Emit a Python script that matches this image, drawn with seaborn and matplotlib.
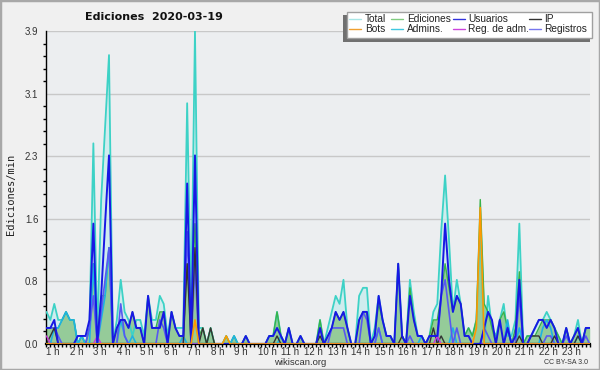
import numpy as np
import pandas as pd
import matplotlib
matplotlib.use("Agg")
import matplotlib.pyplot as plt
import seaborn as sns
from matplotlib.lines import Line2D
from matplotlib.patches import Rectangle
from matplotlib.ticker import FixedLocator, MultipleLocator, FormatStrFormatter

sns.set_style("white")
plt.rcParams['font.family'] = ['Liberation Sans', 'DejaVu Sans']

# ---------------- data (edits per minute, 10-minute bins from 1 h) ----------------
total = [
    0.4, 0.3, 0.5, 0.3, 0.3, 0.4, 0.3, 0.3, 0.0, 0.1,
    0.0, 0.2, 2.5, 0.1, 1.8, 2.7, 3.6, 0.0, 0.3, 0.8,
    0.4, 0.3, 0.1, 0.3, 0.3, 0.1, 0.6, 0.3, 0.3, 0.6,
    0.5, 0.1, 0.4, 0.2, 0.2, 0.2, 3.0, 0.4, 3.9, 0.2,
    0.2, 0.0, 0.2, 0.0, 0.0, 0.0, 0.1, 0.0, 0.1, 0.0,
    0.0, 0.1, 0.0, 0.0, 0.0, 0.0, 0.0, 0.1, 0.1, 0.4,
    0.1, 0.0, 0.2, 0.0, 0.0, 0.1, 0.0, 0.0, 0.0, 0.0,
    0.3, 0.0, 0.2, 0.4, 0.6, 0.5, 0.8, 0.2, 0.0, 0.0,
    0.6, 0.7, 0.7, 0.0, 0.2, 0.6, 0.3, 0.1, 0.1, 0.0,
    1.0, 0.1, 0.0, 0.8, 0.4, 0.1, 0.1, 0.0, 0.1, 0.4,
    0.5, 1.4, 2.1, 1.3, 0.4, 0.8, 0.5, 0.1, 0.2, 0.1,
    0.3, 1.5, 0.0, 0.6, 0.2, 0.1, 0.3, 0.5, 0.1, 0.1,
    0.3, 1.5, 0.0, 0.1, 0.1, 0.2, 0.3, 0.3, 0.4, 0.3,
    0.2, 0.1, 0.0, 0.2, 0.0, 0.1, 0.3, 0.0, 0.2, 0.2,
]
ediciones = [
    0.2, 0.2, 0.2, 0.2, 0.3, 0.4, 0.3, 0.3, 0.0, 0.1,
    0.0, 0.2, 1.0, 0.0, 0.6, 0.6, 1.2, 0.0, 0.2, 0.3,
    0.3, 0.2, 0.4, 0.2, 0.2, 0.0, 0.6, 0.2, 0.2, 0.4,
    0.4, 0.0, 0.4, 0.2, 0.1, 0.1, 1.0, 0.3, 1.5, 0.1,
    0.2, 0.0, 0.2, 0.0, 0.0, 0.0, 0.1, 0.0, 0.1, 0.0,
    0.0, 0.1, 0.0, 0.0, 0.0, 0.0, 0.0, 0.1, 0.1, 0.4,
    0.1, 0.0, 0.2, 0.0, 0.0, 0.1, 0.0, 0.0, 0.0, 0.0,
    0.3, 0.0, 0.1, 0.2, 0.4, 0.3, 0.4, 0.2, 0.0, 0.0,
    0.3, 0.4, 0.4, 0.0, 0.1, 0.5, 0.3, 0.1, 0.1, 0.0,
    1.0, 0.1, 0.0, 0.7, 0.3, 0.1, 0.1, 0.0, 0.1, 0.3,
    0.3, 0.6, 1.0, 0.7, 0.4, 0.6, 0.5, 0.1, 0.2, 0.1,
    0.3, 1.8, 0.5, 0.4, 0.2, 0.0, 0.3, 0.4, 0.2, 0.0,
    0.2, 0.9, 0.0, 0.1, 0.1, 0.1, 0.2, 0.3, 0.3, 0.3,
    0.2, 0.1, 0.0, 0.2, 0.0, 0.1, 0.2, 0.0, 0.2, 0.2,
]
usuarios = [
    0.2, 0.2, 0.3, 0.0, 0.0, 0.0, 0.0, 0.0, 0.1, 0.1,
    0.1, 0.3, 1.5, 0.0, 0.6, 1.5, 2.35, 0.0, 0.2, 0.3,
    0.3, 0.2, 0.4, 0.2, 0.2, 0.0, 0.6, 0.2, 0.2, 0.2,
    0.4, 0.0, 0.4, 0.2, 0.1, 0.1, 2.0, 0.0, 2.35, 0.0,
    0.0, 0.0, 0.0, 0.0, 0.0, 0.0, 0.0, 0.0, 0.0, 0.0,
    0.0, 0.1, 0.0, 0.0, 0.0, 0.0, 0.0, 0.1, 0.1, 0.2,
    0.1, 0.0, 0.2, 0.0, 0.0, 0.1, 0.0, 0.0, 0.0, 0.0,
    0.2, 0.0, 0.1, 0.2, 0.4, 0.3, 0.4, 0.2, 0.0, 0.0,
    0.3, 0.4, 0.4, 0.0, 0.1, 0.6, 0.3, 0.1, 0.1, 0.0,
    1.0, 0.1, 0.0, 0.6, 0.3, 0.1, 0.1, 0.0, 0.1, 0.1,
    0.1, 0.6, 1.5, 0.8, 0.4, 0.6, 0.5, 0.1, 0.1, 0.0,
    0.0, 0.0, 0.2, 0.4, 0.3, 0.0, 0.3, 0.0, 0.2, 0.0,
    0.1, 0.8, 0.0, 0.0, 0.1, 0.2, 0.3, 0.3, 0.2, 0.3,
    0.2, 0.0, 0.0, 0.2, 0.0, 0.1, 0.2, 0.0, 0.2, 0.2,
]
ip = [
    0.0, 0.1, 0.2, 0.0, 0.0, 0.0, 0.0, 0.0, 0.0, 0.0,
    0.0, 0.0, 0.0, 0.0, 0.0, 0.0, 0.0, 0.0, 0.0, 0.0,
    0.0, 0.0, 0.0, 0.0, 0.0, 0.0, 0.0, 0.0, 0.0, 0.0,
    0.0, 0.0, 0.0, 0.0, 0.0, 0.0, 1.0, 0.0, 1.2, 0.0,
    0.2, 0.0, 0.2, 0.0, 0.0, 0.0, 0.0, 0.0, 0.0, 0.0,
    0.0, 0.0, 0.0, 0.0, 0.0, 0.0, 0.0, 0.0, 0.0, 0.1,
    0.0, 0.0, 0.0, 0.0, 0.0, 0.0, 0.0, 0.0, 0.0, 0.0,
    0.1, 0.0, 0.0, 0.0, 0.0, 0.0, 0.0, 0.0, 0.0, 0.0,
    0.0, 0.0, 0.0, 0.0, 0.0, 0.0, 0.0, 0.0, 0.0, 0.0,
    0.0, 0.1, 0.0, 0.0, 0.0, 0.0, 0.0, 0.0, 0.0, 0.2,
    0.0, 0.1, 0.0, 0.0, 0.0, 0.0, 0.0, 0.0, 0.0, 0.0,
    0.0, 0.0, 0.0, 0.0, 0.0, 0.0, 0.0, 0.0, 0.0, 0.0,
    0.0, 0.1, 0.0, 0.0, 0.1, 0.1, 0.1, 0.0, 0.0, 0.0,
    0.1, 0.0, 0.0, 0.0, 0.0, 0.0, 0.1, 0.0, 0.0, 0.0,
]
bots = [
    0.0, 0.0, 0.0, 0.0, 0.0, 0.0, 0.0, 0.0, 0.0, 0.0,
    0.0, 0.0, 0.0, 0.0, 0.0, 0.0, 0.0, 0.0, 0.0, 0.0,
    0.0, 0.0, 0.0, 0.0, 0.0, 0.0, 0.0, 0.0, 0.0, 0.0,
    0.0, 0.0, 0.0, 0.0, 0.0, 0.0, 0.0, 0.0, 0.3, 0.0,
    0.0, 0.0, 0.0, 0.0, 0.0, 0.0, 0.1, 0.0, 0.0, 0.0,
    0.0, 0.0, 0.0, 0.0, 0.0, 0.0, 0.0, 0.0, 0.0, 0.0,
    0.0, 0.0, 0.0, 0.0, 0.0, 0.0, 0.0, 0.0, 0.0, 0.0,
    0.0, 0.0, 0.0, 0.0, 0.0, 0.0, 0.0, 0.0, 0.0, 0.0,
    0.0, 0.0, 0.0, 0.0, 0.0, 0.0, 0.0, 0.0, 0.0, 0.0,
    0.0, 0.0, 0.0, 0.0, 0.0, 0.0, 0.0, 0.0, 0.0, 0.0,
    0.0, 0.0, 0.0, 0.0, 0.0, 0.0, 0.0, 0.0, 0.0, 0.0,
    0.2, 1.7, 0.0, 0.0, 0.0, 0.0, 0.0, 0.0, 0.0, 0.0,
    0.0, 0.0, 0.0, 0.0, 0.0, 0.0, 0.0, 0.0, 0.0, 0.0,
    0.0, 0.0, 0.0, 0.0, 0.0, 0.0, 0.0, 0.0, 0.0, 0.0,
]
admins = [
    0.0, 0.0, 0.2, 0.2, 0.3, 0.4, 0.3, 0.3, 0.0, 0.1,
    0.0, 0.0, 1.0, 0.0, 0.3, 0.6, 1.2, 0.0, 0.0, 0.3,
    0.1, 0.0, 0.1, 0.0, 0.0, 0.0, 0.0, 0.0, 0.0, 0.0,
    0.0, 0.0, 0.0, 0.0, 0.0, 0.1, 0.0, 0.0, 0.0, 0.0,
    0.0, 0.0, 0.0, 0.0, 0.0, 0.0, 0.0, 0.0, 0.1, 0.0,
    0.0, 0.0, 0.0, 0.0, 0.0, 0.0, 0.0, 0.0, 0.0, 0.0,
    0.1, 0.0, 0.0, 0.0, 0.0, 0.0, 0.0, 0.0, 0.0, 0.0,
    0.0, 0.0, 0.0, 0.0, 0.0, 0.0, 0.0, 0.0, 0.0, 0.0,
    0.0, 0.0, 0.0, 0.0, 0.0, 0.2, 0.0, 0.0, 0.0, 0.0,
    0.0, 0.0, 0.0, 0.0, 0.0, 0.0, 0.1, 0.0, 0.0, 0.0,
    0.0, 0.0, 0.0, 0.0, 0.2, 0.0, 0.0, 0.0, 0.0, 0.0,
    0.0, 0.0, 0.0, 0.0, 0.0, 0.0, 0.0, 0.0, 0.3, 0.0,
    0.0, 0.2, 0.0, 0.0, 0.0, 0.0, 0.0, 0.2, 0.3, 0.2,
    0.0, 0.0, 0.0, 0.0, 0.0, 0.0, 0.1, 0.0, 0.0, 0.0,
]
reg_adm = [
    0.1, 0.0, 0.0, 0.0, 0.0, 0.0, 0.0, 0.0, 0.0, 0.0,
    0.0, 0.0, 0.0, 0.1, 0.0, 0.0, 0.0, 0.0, 0.0, 0.0,
    0.0, 0.0, 0.0, 0.0, 0.0, 0.0, 0.0, 0.0, 0.0, 0.0,
    0.0, 0.0, 0.0, 0.0, 0.0, 0.0, 0.0, 0.0, 0.0, 0.0,
    0.0, 0.0, 0.0, 0.0, 0.0, 0.0, 0.0, 0.0, 0.0, 0.0,
    0.0, 0.0, 0.0, 0.0, 0.0, 0.0, 0.0, 0.0, 0.0, 0.0,
    0.0, 0.0, 0.0, 0.0, 0.0, 0.0, 0.0, 0.0, 0.0, 0.0,
    0.0, 0.0, 0.0, 0.0, 0.0, 0.0, 0.0, 0.0, 0.0, 0.0,
    0.0, 0.0, 0.0, 0.0, 0.0, 0.0, 0.0, 0.0, 0.0, 0.0,
    0.0, 0.0, 0.0, 0.0, 0.0, 0.0, 0.0, 0.0, 0.0, 0.0,
    0.1, 0.0, 0.0, 0.0, 0.0, 0.0, 0.0, 0.0, 0.0, 0.0,
    0.0, 0.0, 0.0, 0.0, 0.0, 0.0, 0.0, 0.0, 0.0, 0.0,
    0.0, 0.0, 0.0, 0.0, 0.0, 0.0, 0.0, 0.0, 0.0, 0.0,
    0.0, 0.0, 0.0, 0.0, 0.0, 0.0, 0.0, 0.0, 0.0, 0.0,
]
registros = [
    0.2, 0.2, 0.2, 0.1, 0.0, 0.0, 0.0, 0.0, 0.0, 0.0,
    0.0, 0.2, 0.6, 0.0, 0.4, 0.8, 1.2, 0.0, 0.0, 0.5,
    0.1, 0.0, 0.0, 0.0, 0.0, 0.0, 0.0, 0.0, 0.0, 0.3,
    0.2, 0.0, 0.0, 0.0, 0.0, 0.0, 1.4, 0.0, 1.0, 0.0,
    0.0, 0.0, 0.0, 0.0, 0.0, 0.0, 0.0, 0.0, 0.0, 0.0,
    0.0, 0.0, 0.0, 0.0, 0.0, 0.0, 0.0, 0.0, 0.0, 0.0,
    0.0, 0.0, 0.0, 0.0, 0.0, 0.0, 0.0, 0.0, 0.0, 0.0,
    0.0, 0.0, 0.0, 0.2, 0.2, 0.2, 0.2, 0.0, 0.0, 0.0,
    0.0, 0.4, 0.3, 0.0, 0.0, 0.2, 0.0, 0.0, 0.0, 0.0,
    0.0, 0.0, 0.0, 0.1, 0.0, 0.0, 0.0, 0.0, 0.0, 0.0,
    0.0, 0.6, 0.8, 0.4, 0.0, 0.2, 0.0, 0.0, 0.0, 0.0,
    0.0, 0.0, 0.2, 0.1, 0.0, 0.0, 0.0, 0.0, 0.2, 0.0,
    0.0, 0.6, 0.0, 0.0, 0.0, 0.0, 0.0, 0.0, 0.1, 0.1,
    0.0, 0.0, 0.0, 0.1, 0.0, 0.0, 0.0, 0.0, 0.1, 0.0,
]
hour_labels = [f"{h} h" for h in range(1, 24)]
legend_labels = ["Total", "Ediciones", "Usuarios", "IP",
                 "Bots", "Admins.", "Reg. de adm.", "Registros"]

hours = 1 + np.arange(len(total)) / 6.0
df = pd.DataFrame({"hora": hours, "Total": total, "Ediciones": ediciones,
                   "Usuarios": usuarios, "IP": ip, "Bots": bots,
                   "Admins.": admins, "Reg. de adm.": reg_adm,
                   "Registros": registros})

# ---------------- figure ----------------
W, H = 600, 370
fig = plt.figure(figsize=(6, 3.7), dpi=100, facecolor='#f0f0f0')
ax = fig.add_axes([46 / W, 26 / H, 544 / W, 313 / H])
ax.set_facecolor('#eceef0')

ax.fill_between(df["hora"], df["Total"], color='#c4ecee', alpha=0.7, lw=0, zorder=1)
ax.fill_between(df["hora"], df["Ediciones"], color='#8fc890', alpha=0.9, lw=0, zorder=2)

line_styles = [
    ("Total", '#3dd2c6', 1.3),
    ("Ediciones", '#39b24a', 1.0),
    ("Admins.", '#1fb2e2', 1.2),
    ("Registros", '#5858f0', 1.2),
    ("IP", '#333333', 1.0),
    ("Reg. de adm.", '#cc33dd', 1.0),
    ("Usuarios", '#1818e4', 1.4),
    ("Bots", '#ff9900', 1.2),
]
for i, (col, c, lw) in enumerate(line_styles):
    sns.lineplot(data=df, x="hora", y=col, ax=ax, color=c, lw=lw,
                 estimator=None, legend=False, zorder=3 + i)

ax.set_xlim(0.98, 24.18)
ax.set_ylim(0, 3.9)
ax.set_xlabel("")
ax.set_ylabel("")

yt = np.linspace(0, 3.9, 6)
ax.yaxis.set_major_locator(FixedLocator(yt))
ax.yaxis.set_minor_locator(FixedLocator(np.linspace(0, 3.9, 26)))
ax.yaxis.set_major_formatter(FormatStrFormatter('%.1f'))
ax.set_xticks(list(range(1, 24)))
ax.set_xticklabels(hour_labels, ha='left')
ax.xaxis.set_minor_locator(MultipleLocator(1 / 6))

ax.tick_params(axis='y', which='major', direction='out', length=4, width=1,
               color='black', labelsize=7, labelcolor='#333333', pad=1.5)
ax.tick_params(axis='y', which='minor', direction='out', length=2.5, width=1,
               color='black', left=True)
ax.tick_params(axis='x', which='major', direction='out', length=2.2, width=1,
               color='black', labelsize=7, labelcolor='#333333', pad=0.0,
               bottom=True)
ax.tick_params(axis='x', which='minor', direction='out', length=2.2, width=1,
               color='black', bottom=True)

ax.yaxis.grid(True, which='major', color='#c8c8c8', lw=1)
ax.xaxis.grid(False)
ax.set_axisbelow(True)
for s in ("top", "right"):
    ax.spines[s].set_visible(False)
ax.spines["left"].set_color('black')
ax.spines["left"].set_linewidth(1)
ax.spines["bottom"].set_color('black')
ax.spines["bottom"].set_linewidth(1.6)

# texts
fig.text(154 / W, 1 - 17 / H, "Ediciones  2020-03-19", ha='center', va='center',
         fontsize=8, fontweight='bold', family='DejaVu Sans', color='#111111')
fig.text(11 / W, 1 - 194 / H, "Ediciones/min", rotation=90, ha='center',
         va='center', fontsize=7.5, family='DejaVu Sans Mono', color='#222222')
fig.text(300 / W, 1 - 362.5 / H, "wikiscan.org", ha='center', va='center',
         fontsize=6.8, color='#333333')
fig.text(588 / W, 1 - 362.5 / H, "CC BY-SA 3.0", ha='right', va='center',
         fontsize=5, color='#333333')

# legend (drawn by hand to match the compact original)
leg_colors = ['#a8e6e6', '#80cc80', '#3333dd', '#333333',
              '#f0a030', '#40c8e0', '#cc44dd', '#7777ee']
col_handle_x = [349, 391, 453, 529]
col_text_x = [365, 407, 468, 544]
row_y = [19, 29]
fig.add_artist(Rectangle((343 / W, 1 - 41.7 / H), (590 - 343) / W, 26.7 / H,
                         transform=fig.transFigure, facecolor='#707070',
                         edgecolor='none', zorder=4))
fig.add_artist(Rectangle((347 / W, 1 - 38.3 / H), (592 - 347) / W, 26.6 / H,
                         transform=fig.transFigure, facecolor='white',
                         edgecolor='#a0a0a0', lw=1, zorder=5))
for k, lab in enumerate(legend_labels):
    r, c = divmod(k, 4)
    yy = 1 - row_y[r] / H
    fig.add_artist(Line2D([col_handle_x[c] / W, (col_handle_x[c] + 12) / W], [yy, yy],
                          transform=fig.transFigure, color=leg_colors[k], lw=1,
                          zorder=6))
    fig.text(col_text_x[c] / W, yy, lab, ha='left', va='center', fontsize=7.3,
             color='#222222', zorder=6)

fig.add_artist(Rectangle((0, 0), 1, 1, transform=fig.transFigure, fill=False,
                         edgecolor='#a8a8a8', lw=2.5, zorder=10))

fig.savefig("out.png", dpi=100, facecolor=fig.get_facecolor())
